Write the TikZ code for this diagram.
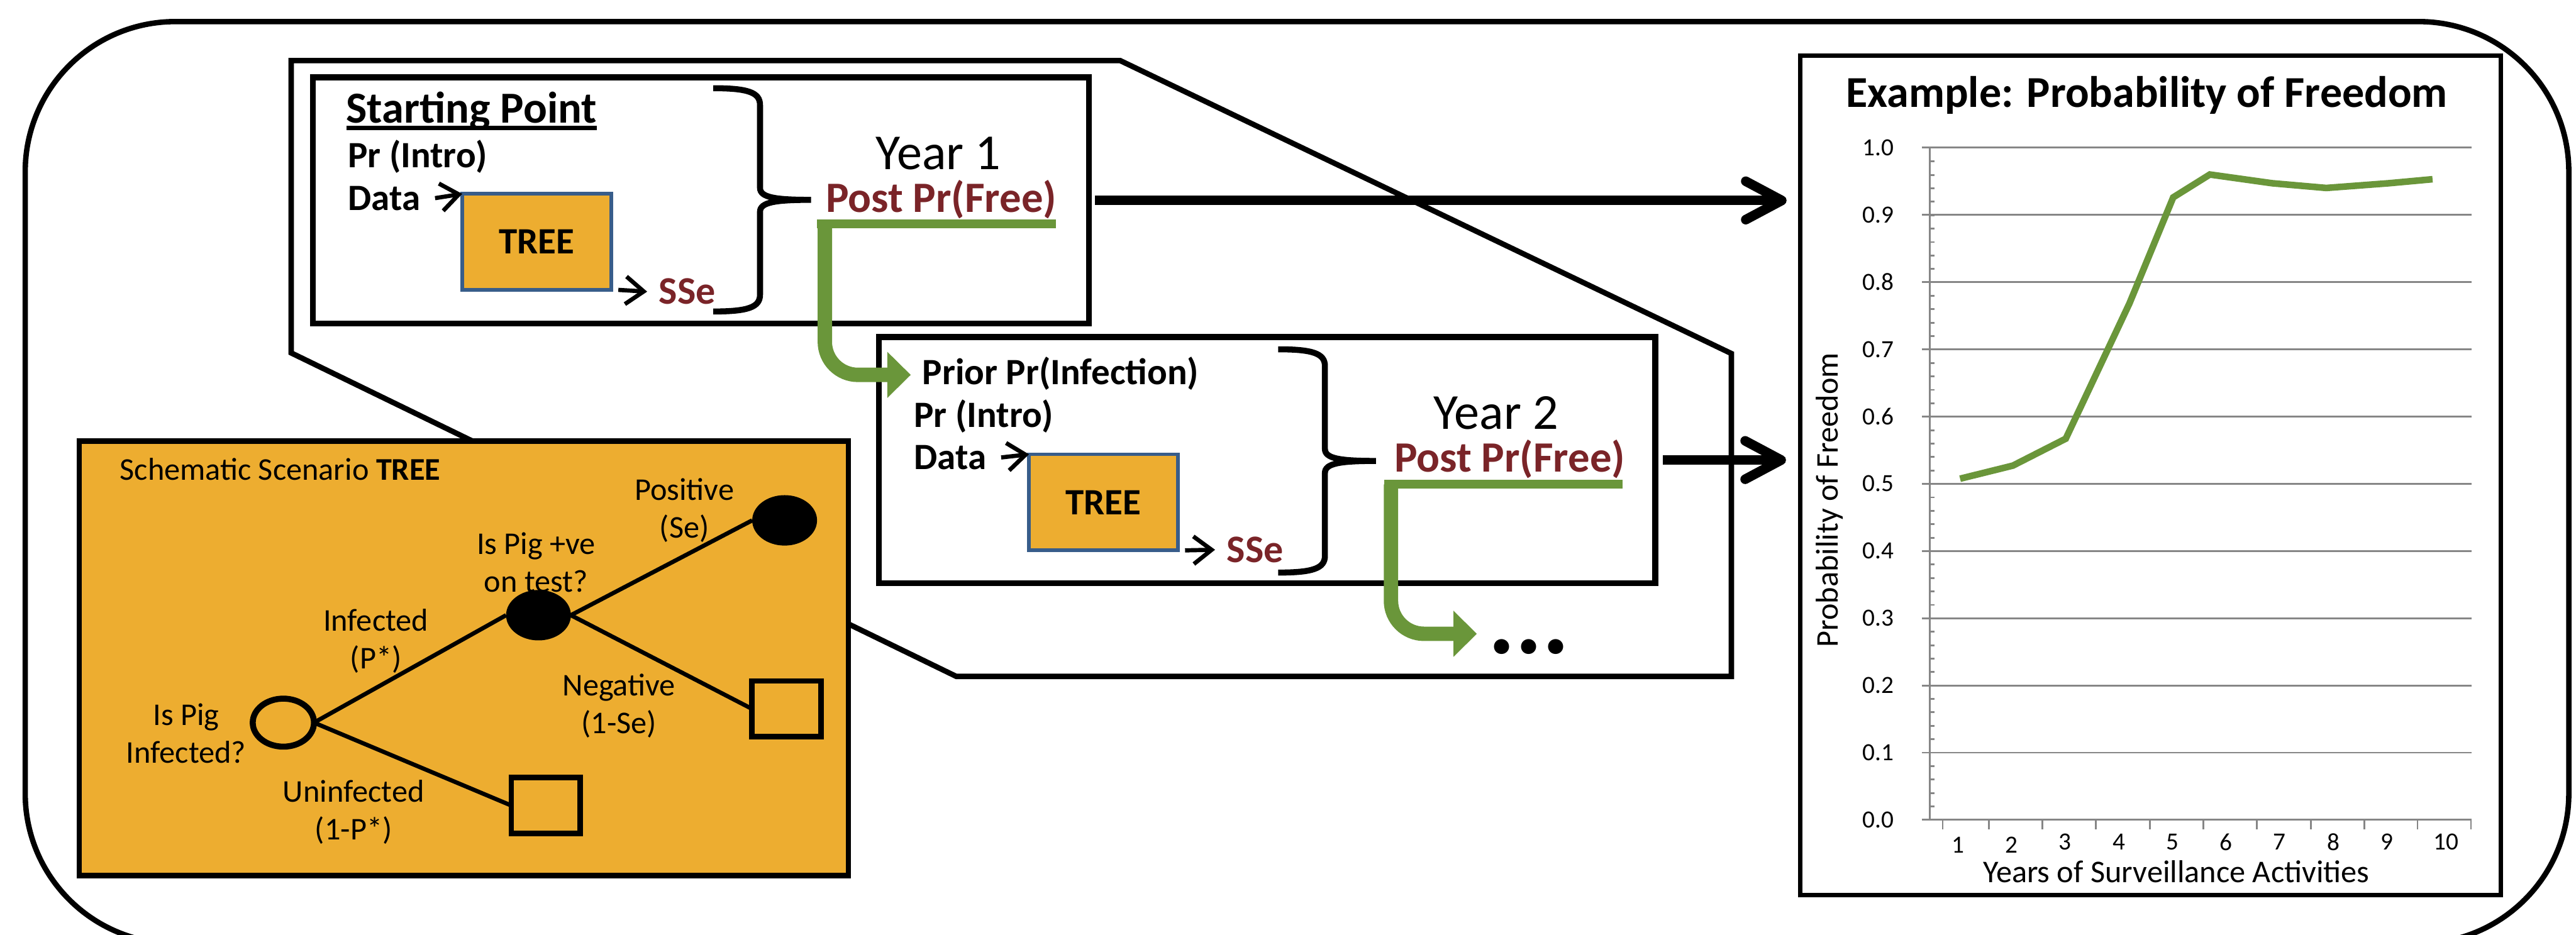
\documentclass[tikz,border=0pt]{standalone}
\usepackage{fontspec}
\setmainfont{Carlito}
\usepackage{tikz}
\usetikzlibrary{arrows.meta,shapes.geometric}

\definecolor{treeorange}{RGB}{237,173,48}
\definecolor{treeblue}{RGB}{56,93,138}
\definecolor{postred}{RGB}{122,36,40}
\definecolor{leafgreen}{RGB}{106,150,58}
\definecolor{gridgray}{RGB}{134,134,134}

\newcommand{\thickul}[1]{\setbox0=\hbox{#1}\rlap{\rule[-0.115cm]{\wd0}{0.07cm}}\box0}

\begin{document}
\begin{tikzpicture}[
  frame/.style={line width=0.09cm, rounded corners=2.5cm},
  hull/.style={draw, line width=0.09cm},
  yearbox/.style={rectangle, draw, line width=0.1cm, outer sep=0pt,
                  minimum width=12.93cm, minimum height=4.10cm},
  treebox/.style={rectangle, draw=treeblue, fill=treeorange, line width=0.06cm,
                  outer sep=0pt, inner sep=0pt, minimum width=2.48cm, minimum height=1.60cm,
                  font=\fontsize{17.6}{21}\selectfont\bfseries},
  hdr/.style={anchor=base west, inner sep=0pt, font=\fontsize{21}{25}\selectfont\bfseries},
  lbl/.style={anchor=base west, inner sep=0pt, font=\fontsize{17.6}{21}\selectfont\bfseries},
  sse/.style={anchor=base west, inner sep=0pt, text=postred,
              font=\fontsize{18.5}{22}\selectfont\bfseries},
  yr/.style={anchor=base, inner sep=0pt, font=\fontsize{23.9}{28}\selectfont},
  post/.style={anchor=base west, inner sep=0pt, text=postred,
               font=\fontsize{20.5}{24}\selectfont\bfseries},
  smallarr/.style={draw, line width=0.07cm, -{Straight Barb[length=0.3cm,width=0.46cm]}},
  bigarr/.style={draw, line width=0.16cm, -{Straight Barb[length=0.6cm,width=0.64cm,round]}},
  greenbar/.style={draw=leafgreen, line width=0.15cm},
  greenarr/.style={draw=leafgreen, line width=0.24cm, rounded corners=0.55cm,
                   -{Triangle[length=0.39cm,width=0.77cm,line width=0pt]}},
  ybrace/.pic={
    \draw[line width=0.1cm] (-1.63,1.86) .. controls (-1.05,1.86) and (-0.85,1.79) .. (-0.85,1.58)
      -- (-0.85,0.2) .. controls (-0.85,0.04) and (-0.6,0) .. (0,0)
      .. controls (-0.6,0) and (-0.85,-0.04) .. (-0.85,-0.2)
      -- (-0.85,-1.58) .. controls (-0.85,-1.79) and (-1.05,-1.86) .. (-1.63,-1.86);
  },
  orangebox/.style={rectangle, draw, fill=treeorange, line width=0.09cm, outer sep=0pt,
                    minimum width=12.81cm, minimum height=7.24cm},
  scentitle/.style={anchor=base west, inner sep=0pt, font=\fontsize{15}{18}\selectfont},
  rootnode/.style={ellipse, draw, line width=0.1cm, inner sep=0pt, outer sep=0pt,
                   minimum width=1.02cm, minimum height=0.80cm},
  chance/.style={ellipse, fill=black, inner sep=0pt, outer sep=0pt,
                 minimum width=1.08cm, minimum height=0.84cm},
  leaf/.style={rectangle, draw, line width=0.09cm, outer sep=0pt,
               minimum width=1.15cm, minimum height=0.93cm},
  branch/.style={line width=0.07cm},
  tlbl/.style={align=center, inner sep=0pt, font=\fontsize{15}{18}\selectfont},
  chartbox/.style={rectangle, draw, line width=0.07cm, outer sep=0pt,
                   minimum width=11.67cm, minimum height=13.98cm},
  ctitle/.style={anchor=base, inner sep=0pt, font=\fontsize{20.9}{25}\selectfont\bfseries},
  axlbl/.style={inner sep=0pt, font=\fontsize{15}{18}\selectfont},
  ticklbl/.style={inner sep=0pt, font=\fontsize{11.7}{14}\selectfont},
  gridline/.style={draw=gridgray, line width=0.03cm},
  dataline/.style={draw=leafgreen, line width=0.11cm}
]
\useasboundingbox (0,0) rectangle (42.91,15.57);
\draw[frame] (0.42,-0.15) rectangle (42.79,15.21);
\draw[hull] (4.85,14.56) -- (18.66,14.56) -- (28.84,9.68) -- (28.84,4.30)
  -- (15.93,4.30) -- (4.85,9.69) -- cycle;

\node[yearbox] (y1) at (11.675,12.23) {};
\node[hdr] (start) at (5.76,13.52) {\thickul{Starting Point}};
\node[lbl] (intro1) at (5.79,12.78) {Pr (Intro)};
\node[lbl] (data1) at (5.79,12.07) {Data};
\node[treebox, anchor=north west] (tree1) at (7.70,12.34) {TREE};
\node[sse] (sse1) at (10.97,10.50) {SSe};
\pic at (13.51,12.24) {ybrace};
\node[yr] (year1) at (15.63,12.75) {Year 1};
\node[post] (post1) at (13.75,12.03) {Post Pr(Free)};
\draw[smallarr] ([xshift=0.24cm]data1.east) -- (tree1.north west);
\draw[smallarr] ([xshift=0.12cm]tree1.south east) -- ([xshift=-0.19cm]sse1.west);

\node[yearbox] (y2) at (21.105,7.905) {};
\node[lbl] (prior2) at (15.36,9.16) {Prior Pr(Infection)};
\node[lbl] (intro2) at (15.22,8.45) {Pr (Intro)};
\node[lbl] (data2) at (15.22,7.75) {Data};
\node[treebox, anchor=north west] (tree2) at (17.14,8.00) {TREE};
\node[sse] (sse2) at (20.43,6.20) {SSe};
\pic at (22.92,7.89) {ybrace};
\node[yr] (year2) at (24.92,8.42) {Year 2};
\node[post] (post2) at (23.22,7.71) {Post Pr(Free)};
\draw[smallarr] ([xshift=0.24cm]data2.east) -- (tree2.north west);
\draw[smallarr] ([xshift=0.12cm]tree2.south east) -- ([xshift=-0.19cm]sse2.west);
\node[inner sep=0pt, font=\fontsize{48}{50}\selectfont\bfseries] (dots) at (25.47,4.79) {...};
\coordinate (more) at (24.60,5.01);

\draw[greenbar] ([xshift=-0.14cm,yshift=-0.19cm]post1.base west)
  -- ([xshift=-0.02cm,yshift=-0.19cm]post1.base east);
\draw[greenarr] ([xshift=-0.01cm,yshift=-0.19cm]post1.base west)
  |- ([xshift=-0.19cm,yshift=0.08cm]prior2.mid west);
\draw[greenbar] ([xshift=-0.16cm,yshift=-0.21cm]post2.base west)
  -- ([xshift=-0.05cm,yshift=-0.21cm]post2.base east);
\draw[greenarr] ([xshift=-0.05cm,yshift=-0.21cm]post2.base west) |- (more);

\node[orangebox] (scen) at (7.725,4.60) {};
\node[scentitle] (scentitle) at (1.99,7.57) {Schematic Scenario \textbf{TREE}};
\node[rootnode] (root) at (4.72,3.53) {};
\node[chance] (test) at (8.97,5.32) {};
\node[chance] (pos) at (13.07,6.90) {};
\node[leaf] (neg) at (13.10,3.76) {};
\node[leaf] (uninf) at (9.09,2.15) {};
\draw[branch] (root.east) -- (test.west);
\draw[branch] (test.east) -- (pos.west);
\draw[branch] (test.east) -- (neg.west);
\draw[branch] (root.east) -- (uninf.west);
\node[tlbl] (qinf) at (3.10,3.35) {Is Pig\\Infected?};
\node[tlbl] (linf) at (6.26,4.89) {Infected\\(P*)};
\node[tlbl] (qtest) at (8.93,6.20) {Is Pig +ve\\on test?};
\node[tlbl] (lpos) at (11.40,7.07) {Positive\\(Se)};
\node[tlbl] (lneg) at (10.31,3.81) {Negative\\(1-Se)};
\node[tlbl] (lun) at (5.89,2.04) {Uninfected\\(1-P*)};

\node[chartbox] (chart) at (35.825,7.65) {};
\node[ctitle] (ctitle) at (35.76,13.78) {Example: Probability of Freedom};
\node[axlbl, rotate=90] (ytitle) at (30.48,7.24) {Probability of Freedom};
\node[axlbl, anchor=base] (xtitle) at (36.25,0.87) {Years of Surveillance Activities};
\begin{scope}[yshift=1.91cm, y=11.2cm]
  \foreach \v [count=\i] in {0.0,0.1,0.2,0.3,0.4,0.5,0.6,0.7,0.8,0.9,1.0} {
    \draw[gridline] (32.01,\v) -- (41.17,\v);
    \node[ticklbl, anchor=east] (yt\i) at (31.55,\v) {\v};
  }
  \foreach \v in {0.02,0.04,...,0.98}
    \draw[gridline] (32.15,\v) -- (32.22,\v);
  \draw[gridline] (32.15,0) -- (32.15,1);
  \foreach \x in {32.36,33.13,34.02,34.91,35.81,36.70,37.59,38.49,39.38,40.27,41.16}
    \draw[gridline] (\x,0) -- ([yshift=-0.16cm]\x,0);
  \foreach \x/\dy [count=\n] in {32.62/0.42,33.51/0.42,34.40/0.37,35.30/0.37,36.19/0.37,
      37.08/0.37,37.97/0.37,38.87/0.37,39.76/0.37,40.75/0.37}
    \node[ticklbl] (xt\n) at ([yshift=-\dy cm]\x,0) {\n};
  \draw[dataline] plot coordinates {(32.65,0.5075) (33.53,0.527) (34.41,0.567)
    (35.47,0.768) (36.20,0.926) (36.81,0.960) (37.85,0.947) (38.75,0.940)
    (39.79,0.947) (40.52,0.953)};
\end{scope}

\draw[bigarr] ([xshift=0.1cm]y1.east) -- ([xshift=-0.23cm]chart.west |- y1.east);
\draw[bigarr] ([xshift=0.13cm]y2.east) -- ([xshift=-0.24cm]chart.west |- y2.east);
\end{tikzpicture}
\end{document}
